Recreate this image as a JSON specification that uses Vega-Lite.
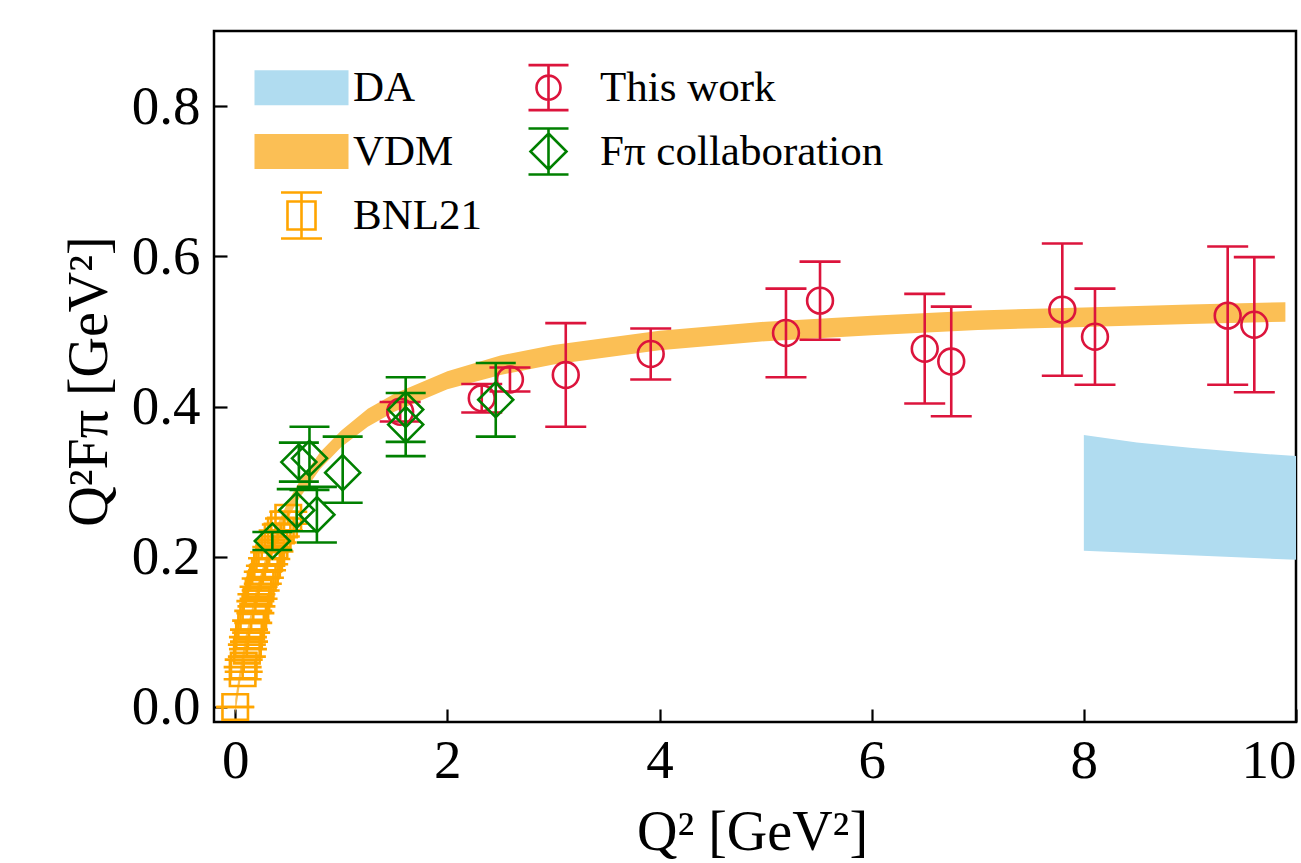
{
  "$schema": "https://vega.github.io/schema/vega-lite/v6.json",
  "width": 1082,
  "height": 691,
  "autosize": {"type": "none"},
  "padding": {"left": 214, "top": 31, "right": 5, "bottom": 141},
  "background": "white",
  "config": {
    "view": {"stroke": "black", "strokeWidth": 2.5},
    "font": "Liberation Serif",
    "axis": {
      "grid": false, "domain": false, "tickColor": "black", "tickWidth": 2.2, "tickSize": -13,
      "labelFont": "Liberation Serif", "labelFontSize": 55, "labelColor": "black",
      "titleFont": "Liberation Serif", "titleFontSize": 56, "titleColor": "black", "titleFontWeight": "normal"
    },
    "legend": {
      "title": null, "orient": "none", "legendX": 56, "legendY": 25, "columns": 2,
      "columnPadding": 14, "rowPadding": 4, "padding": 0, "labelOffset": 20,
      "symbolSize": 3600, "symbolStrokeWidth": 2.6, "symbolOpacity": 1,
      "labelFont": "Liberation Serif", "labelFontSize": 43, "labelColor": "black", "labelLimit": 0
    }
  },
  "datasets": {
    "legend": [
      {"series": "DA"}, {"series": "VDM"}, {"series": "BNL21"}, {"series": "This work"}, {"series": "Fπ collaboration"}
    ],
    "da": [
      {"q2": 8.0, "lo": 0.208, "hi": 0.362},
      {"q2": 8.5, "lo": 0.205, "hi": 0.352},
      {"q2": 9.0, "lo": 0.202, "hi": 0.345},
      {"q2": 9.5, "lo": 0.199, "hi": 0.339},
      {"q2": 10.0, "lo": 0.196, "hi": 0.334}
    ],
    "vdm": [
      {"q2": 0.0, "lo": -0.01, "hi": 0.01},
      {"q2": 0.05, "lo": 0.036, "hi": 0.056},
      {"q2": 0.1, "lo": 0.074, "hi": 0.096},
      {"q2": 0.2, "lo": 0.136, "hi": 0.158},
      {"q2": 0.3, "lo": 0.184, "hi": 0.206},
      {"q2": 0.4, "lo": 0.222, "hi": 0.244},
      {"q2": 0.5, "lo": 0.252, "hi": 0.274},
      {"q2": 0.6, "lo": 0.277, "hi": 0.299},
      {"q2": 0.8, "lo": 0.317, "hi": 0.339},
      {"q2": 1.0, "lo": 0.346, "hi": 0.368},
      {"q2": 1.25, "lo": 0.373, "hi": 0.397},
      {"q2": 1.5, "lo": 0.393, "hi": 0.417},
      {"q2": 2.0, "lo": 0.423, "hi": 0.447},
      {"q2": 2.5, "lo": 0.442, "hi": 0.468},
      {"q2": 3.0, "lo": 0.456, "hi": 0.482},
      {"q2": 4.0, "lo": 0.475, "hi": 0.501},
      {"q2": 5.0, "lo": 0.487, "hi": 0.513},
      {"q2": 6.0, "lo": 0.495, "hi": 0.521},
      {"q2": 7.0, "lo": 0.502, "hi": 0.528},
      {"q2": 8.0, "lo": 0.506, "hi": 0.532},
      {"q2": 9.0, "lo": 0.510, "hi": 0.536},
      {"q2": 9.9, "lo": 0.513, "hi": 0.539}
    ],
    "bnl": [
      {"q2": 0.00, "y": 0.000, "lo": 0.000, "hi": 0.000},
      {"q2": 0.07, "y": 0.045, "lo": 0.037, "hi": 0.053},
      {"q2": 0.08, "y": 0.055, "lo": 0.047, "hi": 0.063},
      {"q2": 0.11, "y": 0.075, "lo": 0.067, "hi": 0.083},
      {"q2": 0.12, "y": 0.085, "lo": 0.077, "hi": 0.093},
      {"q2": 0.13, "y": 0.095, "lo": 0.087, "hi": 0.103},
      {"q2": 0.15, "y": 0.107, "lo": 0.099, "hi": 0.115},
      {"q2": 0.17, "y": 0.120, "lo": 0.112, "hi": 0.128},
      {"q2": 0.19, "y": 0.133, "lo": 0.125, "hi": 0.141},
      {"q2": 0.20, "y": 0.142, "lo": 0.134, "hi": 0.150},
      {"q2": 0.22, "y": 0.152, "lo": 0.144, "hi": 0.160},
      {"q2": 0.24, "y": 0.163, "lo": 0.155, "hi": 0.171},
      {"q2": 0.26, "y": 0.172, "lo": 0.164, "hi": 0.180},
      {"q2": 0.28, "y": 0.180, "lo": 0.172, "hi": 0.188},
      {"q2": 0.30, "y": 0.190, "lo": 0.182, "hi": 0.198},
      {"q2": 0.32, "y": 0.198, "lo": 0.190, "hi": 0.206},
      {"q2": 0.34, "y": 0.205, "lo": 0.197, "hi": 0.213},
      {"q2": 0.37, "y": 0.215, "lo": 0.207, "hi": 0.223},
      {"q2": 0.40, "y": 0.227, "lo": 0.219, "hi": 0.235},
      {"q2": 0.43, "y": 0.235, "lo": 0.227, "hi": 0.243},
      {"q2": 0.46, "y": 0.243, "lo": 0.235, "hi": 0.251},
      {"q2": 0.50, "y": 0.252, "lo": 0.244, "hi": 0.260}
    ],
    "work": [
      {"q2": 1.555, "y": 0.393, "lo": 0.380, "hi": 0.406},
      {"q2": 2.324, "y": 0.411, "lo": 0.392, "hi": 0.430},
      {"q2": 2.590, "y": 0.436, "lo": 0.420, "hi": 0.452},
      {"q2": 3.116, "y": 0.442, "lo": 0.373, "hi": 0.511},
      {"q2": 3.917, "y": 0.470, "lo": 0.436, "hi": 0.504},
      {"q2": 5.192, "y": 0.498, "lo": 0.439, "hi": 0.557},
      {"q2": 5.513, "y": 0.541, "lo": 0.489, "hi": 0.593},
      {"q2": 6.500, "y": 0.477, "lo": 0.404, "hi": 0.550},
      {"q2": 6.750, "y": 0.460, "lo": 0.387, "hi": 0.533},
      {"q2": 7.797, "y": 0.529, "lo": 0.441, "hi": 0.617},
      {"q2": 8.105, "y": 0.493, "lo": 0.429, "hi": 0.557},
      {"q2": 9.356, "y": 0.521, "lo": 0.429, "hi": 0.613},
      {"q2": 9.607, "y": 0.509, "lo": 0.419, "hi": 0.599}
    ],
    "fpi": [
      {"q2": 0.35, "y": 0.221, "lo": 0.209, "hi": 0.233},
      {"q2": 0.58, "y": 0.262, "lo": 0.234, "hi": 0.290},
      {"q2": 0.60, "y": 0.326, "lo": 0.300, "hi": 0.352},
      {"q2": 0.70, "y": 0.331, "lo": 0.289, "hi": 0.373},
      {"q2": 0.77, "y": 0.256, "lo": 0.219, "hi": 0.293},
      {"q2": 1.013, "y": 0.312, "lo": 0.272, "hi": 0.360},
      {"q2": 1.607, "y": 0.396, "lo": 0.353, "hi": 0.439},
      {"q2": 1.607, "y": 0.376, "lo": 0.334, "hi": 0.418},
      {"q2": 2.456, "y": 0.409, "lo": 0.360, "hi": 0.458}
    ]
  },
  "encoding": {
    "x": {
      "field": "q2", "type": "quantitative",
      "scale": {"domain": [-0.2, 10], "nice": false, "zero": false},
      "axis": {
        "values": [0, 2, 4, 6, 8, 10], "format": "d", "labelPadding": 25,
        "title": "Q² [GeV²]", "titleX": 538, "titleY": 127, "titleAlign": "center", "titleBaseline": "alphabetic"
      }
    }
  },
  "layer": [
    {
      "data": {"name": "da"},
      "mark": {"type": "area", "fill": "#b0dcf0", "opacity": 1},
      "encoding": {
        "y": {
          "field": "lo", "type": "quantitative",
          "scale": {"domain": [-0.02, 0.9], "nice": false, "zero": false},
          "axis": {
            "values": [0, 0.2, 0.4, 0.6, 0.8], "format": ".1f", "labelPadding": 27,
            "title": "Q²Fπ [GeV²]", "titleX": -108, "titleY": 350, "titleAngle": 270, "titleAlign": "center", "titleBaseline": "alphabetic"
          }
        },
        "y2": {"field": "hi"}
      }
    },
    {
      "data": {"name": "vdm"},
      "mark": {"type": "area", "fill": "#fbbf55", "opacity": 1},
      "encoding": {
        "y": {"field": "lo", "type": "quantitative", "scale": {"domain": [-0.02, 0.9], "nice": false, "zero": false}},
        "y2": {"field": "hi"}
      }
    },
    {
      "data": {"name": "bnl"},
      "layer": [
        {"mark": {"type": "rule", "strokeWidth": 2.6, "color": "#ffa500"},
         "encoding": {"y": {"field": "lo", "type": "quantitative"}, "y2": {"field": "hi"}}},
        {"mark": {"type": "tick", "orient": "horizontal", "size": 38, "thickness": 2.6, "color": "#ffa500", "opacity": 1},
         "encoding": {"y": {"field": "lo", "type": "quantitative"}}},
        {"mark": {"type": "tick", "orient": "horizontal", "size": 38, "thickness": 2.6, "color": "#ffa500", "opacity": 1},
         "encoding": {"y": {"field": "hi", "type": "quantitative"}}},
        {"mark": {"type": "point", "shape": "square", "size": 650, "filled": false, "strokeWidth": 2.6, "opacity": 1, "color": "#ffa500"},
         "encoding": {"y": {"field": "y", "type": "quantitative"}}}
      ]
    },
    {
      "data": {"name": "work"},
      "layer": [
        {"mark": {"type": "rule", "strokeWidth": 2.6, "color": "#dc143c"},
         "encoding": {"y": {"field": "lo", "type": "quantitative"}, "y2": {"field": "hi"}}},
        {"mark": {"type": "tick", "orient": "horizontal", "size": 41, "thickness": 2.6, "color": "#dc143c", "opacity": 1},
         "encoding": {"y": {"field": "lo", "type": "quantitative"}}},
        {"mark": {"type": "tick", "orient": "horizontal", "size": 41, "thickness": 2.6, "color": "#dc143c", "opacity": 1},
         "encoding": {"y": {"field": "hi", "type": "quantitative"}}},
        {"mark": {"type": "point", "shape": "circle", "size": 666, "filled": false, "strokeWidth": 2.6, "opacity": 1, "color": "#dc143c"},
         "encoding": {"y": {"field": "y", "type": "quantitative"}}}
      ]
    },
    {
      "data": {"name": "fpi"},
      "layer": [
        {"mark": {"type": "rule", "strokeWidth": 2.6, "color": "#008000"},
         "encoding": {"y": {"field": "lo", "type": "quantitative"}, "y2": {"field": "hi"}}},
        {"mark": {"type": "tick", "orient": "horizontal", "size": 40, "thickness": 2.6, "color": "#008000", "opacity": 1},
         "encoding": {"y": {"field": "lo", "type": "quantitative"}}},
        {"mark": {"type": "tick", "orient": "horizontal", "size": 40, "thickness": 2.6, "color": "#008000", "opacity": 1},
         "encoding": {"y": {"field": "hi", "type": "quantitative"}}},
        {"mark": {"type": "point", "shape": "diamond", "size": 1225, "filled": false, "strokeWidth": 2.6, "opacity": 1, "color": "#008000"},
         "encoding": {"y": {"field": "y", "type": "quantitative"}}}
      ]
    },
    {
      "data": {"name": "legend"},
      "mark": {"type": "point", "opacity": 0, "filled": false},
      "encoding": {
        "shape": {
          "field": "series", "type": "nominal",
          "scale": {
            "domain": ["DA", "VDM", "BNL21", "This work", "Fπ collaboration"],
            "range": [
              "M-1.567,-0.767M1.567,0.767M-1.567,-0.583H1.567V0.583H-1.567Z",
              "M-1.567,-0.767M1.567,0.767M-1.567,-0.583H1.567V0.583H-1.567Z",
              "M-1.567,-0.767M1.567,0.767M-0.467,-0.467H0.467V0.467H-0.467ZM0,-0.767V0.767M-0.683,-0.767H0.683M-0.683,0.767H0.683",
              "M-1.567,-0.767M1.567,0.767M0.4,0C0.4,0.2209,0.2209,0.4,0,0.4C-0.2209,0.4,-0.4,0.2209,-0.4,0C-0.4,-0.2209,-0.2209,-0.4,0,-0.4C0.2209,-0.4,0.4,-0.2209,0.4,0ZM0,-0.75V0.75M-0.667,-0.75H0.667M-0.667,0.75H0.667",
              "M-1.567,-0.767M1.567,0.767M0,-0.6L0.6,0L0,0.6L-0.6,0ZM0,-0.767V0.767M-0.667,-0.767H0.667M-0.667,0.767H0.667"
            ]
          }
        },
        "fill": {
          "field": "series", "type": "nominal",
          "scale": {
            "domain": ["DA", "VDM", "BNL21", "This work", "Fπ collaboration"],
            "range": ["#b0dcf0", "#fbbf55", "transparent", "transparent", "transparent"]
          }
        },
        "stroke": {
          "field": "series", "type": "nominal",
          "scale": {
            "domain": ["DA", "VDM", "BNL21", "This work", "Fπ collaboration"],
            "range": ["transparent", "transparent", "#ffa500", "#dc143c", "#008000"]
          }
        }
      }
    }
  ]
}
